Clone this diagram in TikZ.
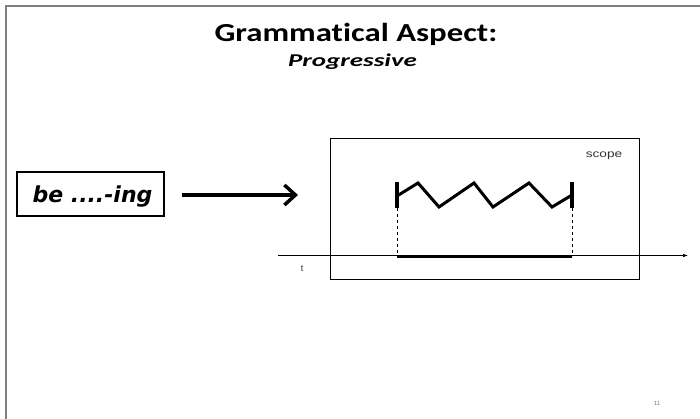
\documentclass[tikz,border=0pt]{standalone}
\usepackage{fontspec}
\setmainfont{Carlito}[Ligatures=NoCommon]
\newfontfamily\verd{DejaVu Sans}
\newfontfamily\arl{Liberation Sans}
\usetikzlibrary{arrows.meta}
\begin{document}
\begin{tikzpicture}[x=1pt,y=-1pt,
  frame/.style={draw=black!50,line width=2pt},
  thickln/.style={line width=3pt},
  txt/.style={inner sep=0pt,anchor=base}]
\useasboundingbox (0,0) rectangle (700,419);
\fill[white] (0,0) rectangle (700,419);
% slide frame
\draw[frame] (6,419) -- (6,6) -- (700,6);
% title
\node[txt,xscale=1.26] (title) at (356,42) {\fontsize{26}{28}\selectfont\bfseries Grammatical Aspect:};
\node[txt,xscale=1.5] (sub) at (352.5,67) {\fontsize{18}{20}\selectfont\bfseries\itshape Progressive};
% be ... ing box
\node[draw,line width=1.2pt,minimum width=147pt,minimum height=44pt,inner sep=0pt] (be) at (90.5,194) {};
\node[txt] (betxt) at (92.5,202.5) {\verd\fontsize{22}{24}\selectfont\bfseries\itshape be ....-ing};
\coordinate (aS) at (182,195);
\coordinate (aE) at (298,195);
\draw[line width=3.5pt,-{Straight Barb[length=11pt,width=20pt,line width=3.5pt]}] (aS) -- (aE);
% scope box
\node[draw,line width=0.8pt,minimum width=309pt,minimum height=141pt,inner sep=0pt] (scope) at (484.5,208.5) {};
\node[txt,xscale=1.3,text=black!80] (scopetxt) at (604,158) {\arl\fontsize{10.5}{12}\selectfont scope};
% time axis
\coordinate (t0) at (278,255.5);
\coordinate (t1) at (688,255.5);
\draw[line width=0.6pt,-{Latex[length=5pt,width=3.5pt]}] (t0) -- (t1);
\node[txt,text=black!80] (tlab) at (302,271) {\arl\fontsize{9}{10}\selectfont t};
% interval
\coordinate (L1) at (397,182);
\coordinate (L2) at (397,208);
\coordinate (R1) at (572,182);
\coordinate (R2) at (572,208);
\coordinate (Lb) at (397,256);
\coordinate (Rb) at (572,256);
\draw[line width=3.5pt] (L1) -- (L2);
\draw[line width=3.5pt] (R1) -- (R2);
\draw[line width=3pt,line join=miter] (397,196) -- (418,183) -- (439,207) -- (474,183) -- (493,207) -- (529,183) -- (552,207) -- (572,195);
\draw[line width=0.8pt,dashed] (L2) -- (Lb);
\draw[line width=0.8pt,dashed] (R2) -- (Rb);
\draw[thickln] (Lb) -- (Rb);
% page number
\node[txt,text=black!50] (pg) at (657,405) {\arl\fontsize{6}{7}\selectfont 11};
\end{tikzpicture}
\end{document}
